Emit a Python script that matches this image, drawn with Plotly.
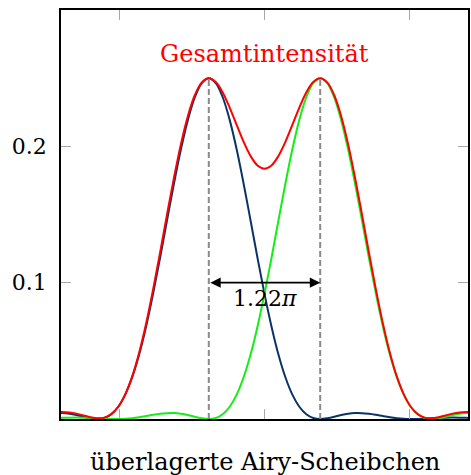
import plotly.graph_objects as go

# sample positions (units of x, spacing = 1.22*pi/16)
x_pos = [-7.186, -6.947, -6.707, -6.468, -6.228, -5.989, -5.749, -5.510, -5.270, -5.030,
         -4.791, -4.551, -4.312, -4.072, -3.833, -3.593, -3.354, -3.114, -2.875, -2.635,
         -2.395, -2.156, -1.916, -1.677, -1.437, -1.198, -0.958, -0.719, -0.479, -0.240,
         0.000,
         0.240, 0.479, 0.719, 0.958, 1.198, 1.437, 1.677, 1.916, 2.156, 2.395,
         2.635, 2.875, 3.114, 3.354, 3.593, 3.833, 4.072, 4.312, 4.551, 4.791,
         5.030, 5.270, 5.510, 5.749, 5.989, 6.228, 6.468, 6.707, 6.947, 7.186]

airy_left = [0.00430, 0.00433, 0.00384, 0.00289, 0.00166, 0.00052, 0.0, 0.00075, 0.00350, 0.0090,
             0.0179, 0.0306, 0.0473, 0.0679, 0.0918, 0.1181, 0.1456, 0.1727, 0.1978, 0.2194,
             0.2360, 0.2464, 0.2500, 0.2464, 0.2360, 0.2194, 0.1978, 0.1727, 0.1456, 0.1181,
             0.0918,
             0.0679, 0.0473, 0.0306, 0.0179, 0.0090, 0.00350, 0.00075, 0.0, 0.00052, 0.00166,
             0.00289, 0.00384, 0.00433, 0.00430, 0.00383, 0.00306, 0.00217, 0.00132, 0.00063, 0.00019,
             0.00001, 0.00005, 0.00025, 0.00051, 0.00077, 0.00096, 0.00104, 0.00100, 0.00086, 0.00065]

airy_right = [0.00065, 0.00086, 0.00100, 0.00104, 0.00096, 0.00077, 0.00051, 0.00025, 0.00005, 0.00001,
              0.00019, 0.00063, 0.00132, 0.00217, 0.00306, 0.00383, 0.00430, 0.00433, 0.00384, 0.00289,
              0.00166, 0.00052, 0.0, 0.00075, 0.00350, 0.0090, 0.0179, 0.0306, 0.0473, 0.0679,
              0.0918,
              0.1181, 0.1456, 0.1727, 0.1978, 0.2194, 0.2360, 0.2464, 0.2500, 0.2464, 0.2360,
              0.2194, 0.1978, 0.1727, 0.1456, 0.1181, 0.0918, 0.0679, 0.0473, 0.0306, 0.0179,
              0.0090, 0.00350, 0.00075, 0.0, 0.00052, 0.00166, 0.00289, 0.00384, 0.00433, 0.00430]

total = [0.00495, 0.00519, 0.00484, 0.00393, 0.00262, 0.00129, 0.00051, 0.00100, 0.00355, 0.00901,
         0.01809, 0.03123, 0.04862, 0.07007, 0.09486, 0.12193, 0.14990, 0.17703, 0.20164, 0.22229,
         0.23766, 0.24692, 0.25000, 0.24715, 0.23950, 0.22840, 0.21570, 0.20330, 0.19290, 0.18600,
         0.18360,
         0.18600, 0.19290, 0.20330, 0.21570, 0.22840, 0.23950, 0.24715, 0.25000, 0.24692, 0.23766,
         0.22229, 0.20164, 0.17703, 0.14990, 0.12193, 0.09486, 0.07007, 0.04862, 0.03123, 0.01809,
         0.00901, 0.00355, 0.00100, 0.00051, 0.00129, 0.00262, 0.00393, 0.00484, 0.00519, 0.00495]

peak_x = [-1.916, 1.916]
peak_y = 0.25
sep_y = 0.1
y_ticks = [0.1, 0.2]
x_ticks = [-5, 0, 5]
title_text = "Gesamtintensität"
sep_text = "1.22<i>π</i>"
x_title = "überlagerte Airy-Scheibchen"

FONT = "DejaVu Serif"

fig = go.Figure()
fig.add_trace(go.Scatter(x=x_pos, y=airy_left, mode="lines",
                         line=dict(color="#0a3466", width=2, shape="spline"), showlegend=False))
fig.add_trace(go.Scatter(x=x_pos, y=airy_right, mode="lines",
                         line=dict(color="#14ee14", width=2, shape="spline"), showlegend=False))
fig.add_trace(go.Scatter(x=x_pos, y=total, mode="lines",
                         line=dict(color="#ff0000", width=2, shape="spline"), showlegend=False))

for px in peak_x:
    fig.add_shape(type="line", x0=px, x1=px, y0=0, y1=peak_y, xref="x", yref="y",
                  line=dict(color="#8a8a8a", width=2, dash="6px,3px"))

fig.add_annotation(x=peak_x[1], y=sep_y, ax=peak_x[0], ay=sep_y, xref="x", yref="y",
                   axref="x", ayref="y", text="", showarrow=True, arrowside="end+start",
                   arrowhead=2, arrowsize=1.3, arrowwidth=1.6, arrowcolor="black")
fig.add_annotation(x=0, y=sep_y, xref="x", yref="y", text=sep_text, showarrow=False,
                   yanchor="top", yshift=-1, font=dict(family=FONT, size=22, color="black"))
fig.add_annotation(x=0, y=0.268, xref="x", yref="y", text=title_text, showarrow=False,
                   font=dict(family=FONT, size=24, color="#ff0000"))
fig.add_annotation(x=0.5, y=-0.105, xref="paper", yref="paper", text=x_title, showarrow=False,
                   yanchor="middle", font=dict(family=FONT, size=24, color="black"))

fig.update_layout(
    width=471, height=475,
    margin=dict(l=61, r=1, t=10, b=56),
    paper_bgcolor="white", plot_bgcolor="white",
    font=dict(family=FONT, size=22, color="black"),
    xaxis=dict(range=[-7, 7], tickvals=x_ticks, showticklabels=False, ticks="inside",
               ticklen=10, tickcolor="#a8a8a8", tickwidth=1, showgrid=False, zeroline=False,
               showline=True, linecolor="black", linewidth=1.6, mirror="ticks"),
    yaxis=dict(range=[0, 0.3], tickvals=y_ticks, ticktext=["0.1", "0.2"], ticks="inside",
               ticklen=10, tickcolor="#a8a8a8", tickwidth=1, showgrid=False, zeroline=False,
               showline=True, linecolor="black", linewidth=1.6, mirror="ticks",
               ticklabelstandoff=8),
)

fig.write_html("out.html", config={"displayModeBar": False},
               post_script="document.body.style.margin='0px';document.body.style.overflow='hidden';")
